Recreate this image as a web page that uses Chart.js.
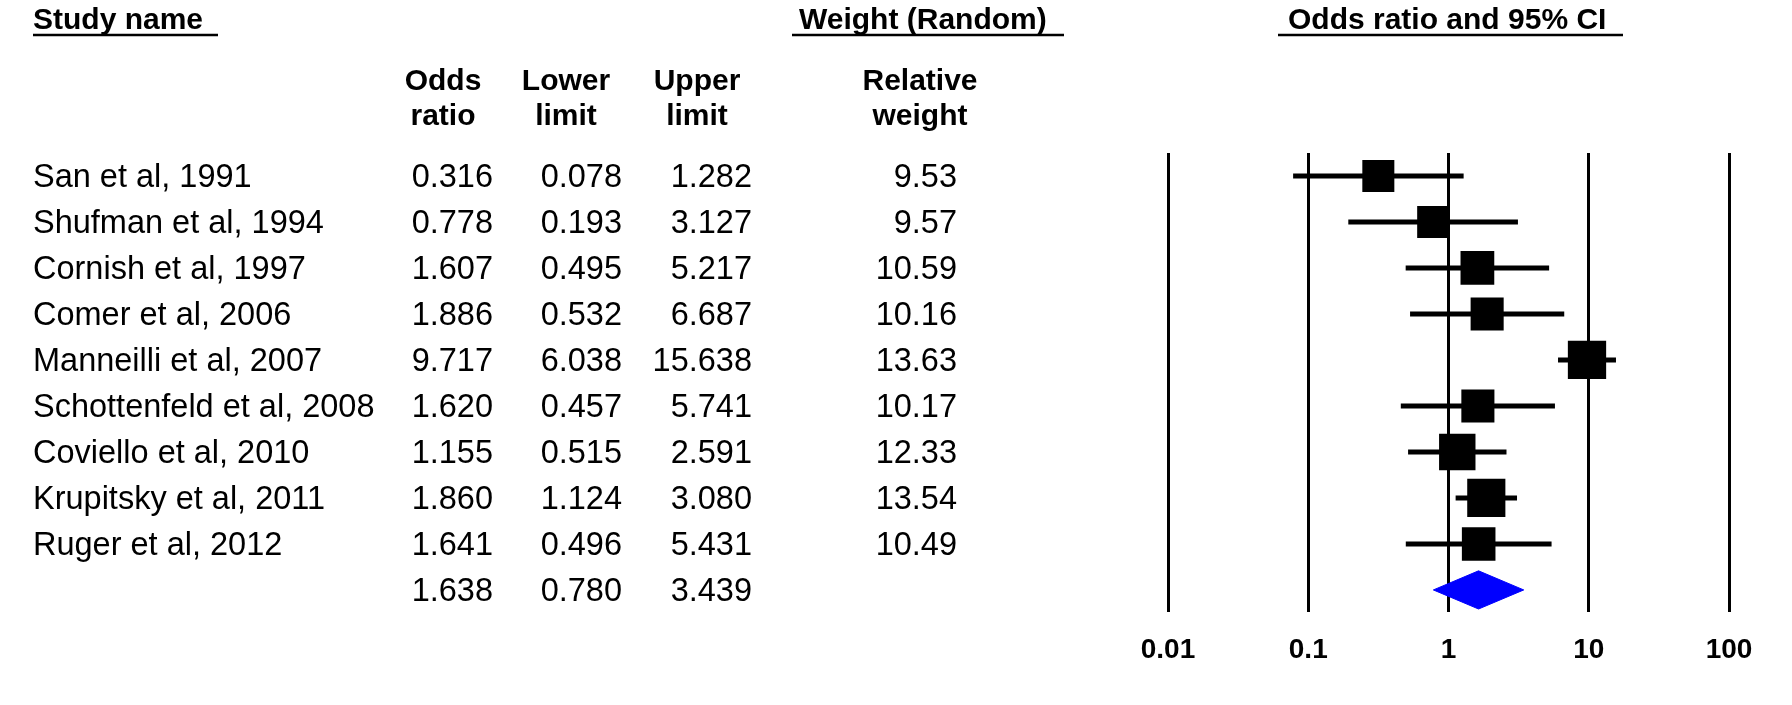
<!DOCTYPE html>
<html><head><meta charset="utf-8">
<script src="https://cdn.jsdelivr.net/npm/chart.js@4.4.1/dist/chart.umd.min.js"></script>
<style>html,body{margin:0;padding:0;background:#fff;overflow:hidden}#wrap{position:relative;width:1792px;height:705px}</style>
</head><body><div id="wrap"><canvas id="c" width="1792" height="705"></canvas></div>
<script>
// ---- data ----
const studies = ["San et al, 1991","Shufman et al, 1994","Cornish et al, 1997","Comer et al, 2006","Manneilli et al, 2007","Schottenfeld et al, 2008","Coviello et al, 2010","Krupitsky et al, 2011","Ruger et al, 2012"];
const oddsRatio  = [0.316, 0.778, 1.607, 1.886, 9.717, 1.620, 1.155, 1.860, 1.641];
const lowerLimit = [0.078, 0.193, 0.495, 0.532, 6.038, 0.457, 0.515, 1.124, 0.496];
const upperLimit = [1.282, 3.127, 5.217, 6.687, 15.638, 5.741, 2.591, 3.080, 5.431];
const relWeight  = [9.53, 9.57, 10.59, 10.16, 13.63, 10.17, 12.33, 13.54, 10.49];
const summaryValues = [1.638, 0.780, 3.439]; // odds ratio, lower, upper
const tickValues = [0.01, 0.1, 1, 10, 100];
const tickLabels = ["0.01", "0.1", "1", "10", "100"];
const headerTitles = ["Study name", "Weight (Random)", "Odds ratio and 95% CI"];
const columnHeaders = [["Odds","ratio"],["Lower","limit"],["Upper","limit"],["Relative","weight"]];

// ---- layout / style ----
const FONT = "'Liberation Sans', Arial, sans-serif";
const summaryRow = studies.length;
const diamondHalf = 0.415;
const boxK = 10.37;

const datasets = [];
datasets.push({
  type: 'scatter', order: 0,
  data: oddsRatio.map((v, i) => ({x: v, y: i})),
  pointStyle: 'rect',
  pointRadius: ctx => boxK * Math.sqrt(relWeight[ctx.dataIndex]) / Math.SQRT2,
  pointHoverRadius: ctx => boxK * Math.sqrt(relWeight[ctx.dataIndex]) / Math.SQRT2,
  backgroundColor: '#000', borderWidth: 0, pointBorderWidth: 0
});
studies.forEach((s, i) => {
  datasets.push({
    type: 'scatter', order: 1, showLine: true,
    data: [{x: lowerLimit[i], y: i}, {x: upperLimit[i], y: i}],
    borderColor: '#000', borderWidth: 5, pointRadius: 0, borderCapStyle: 'butt'
  });
});
datasets.push({
  type: 'scatter', order: 2, showLine: true,
  data: [
    {x: summaryValues[1], y: summaryRow},
    {x: summaryValues[0], y: summaryRow - diamondHalf},
    {x: summaryValues[2], y: summaryRow},
    {x: summaryValues[0], y: summaryRow + diamondHalf},
    {x: summaryValues[1], y: summaryRow}
  ],
  borderColor: '#0000ff', backgroundColor: '#0000ff', borderWidth: 1,
  pointRadius: 0, fill: 'shape', tension: 0
});

const textPlugin = {
  id: 'forestText',
  afterDraw(chart) {
    const ctx = chart.ctx;
    const y = chart.scales.y;
    ctx.save();
    ctx.fillStyle = '#000';
    ctx.strokeStyle = '#000';
    ctx.textBaseline = 'alphabetic';
    // titles
    ctx.font = 'bold 30px ' + FONT;
    ctx.textAlign = 'left';
    const titleX = [33, 799, 1288];
    const ulines = [[33, 218], [792, 1064], [1278, 1623]];
    headerTitles.forEach((t, k) => {
      ctx.fillText(t, titleX[k], 29);
      ctx.lineWidth = 2.5;
      ctx.beginPath();
      ctx.moveTo(ulines[k][0], 35);
      ctx.lineTo(ulines[k][1], 35);
      ctx.stroke();
    });
    // column headers
    ctx.textAlign = 'center';
    const hx = [443, 566, 697, 920];
    columnHeaders.forEach((lines, k) => {
      ctx.fillText(lines[0], hx[k], 90);
      ctx.fillText(lines[1], hx[k], 125);
    });
    // rows
    ctx.font = '32.5px ' + FONT;
    const colR = [493, 622, 752, 957];
    studies.forEach((s, i) => {
      const py = y.getPixelForValue(i) + 11.5;
      ctx.textAlign = 'left';
      ctx.fillText(s, 33, py);
      ctx.textAlign = 'right';
      ctx.fillText(oddsRatio[i].toFixed(3), colR[0], py);
      ctx.fillText(lowerLimit[i].toFixed(3), colR[1], py);
      ctx.fillText(upperLimit[i].toFixed(3), colR[2], py);
      ctx.fillText(relWeight[i].toFixed(2), colR[3], py);
    });
    const sy = y.getPixelForValue(summaryRow) + 11.5;
    ctx.textAlign = 'right';
    summaryValues.forEach((v, k) => ctx.fillText(v.toFixed(3), colR[k], sy));
    ctx.restore();
  }
};

new Chart(document.getElementById('c'), {
  type: 'scatter',
  data: {datasets},
  options: {
    responsive: false, animation: false,
    layout: {padding: {left: 1168, right: 63, top: 153, bottom: 33}},
    plugins: {legend: {display: false}, tooltip: {enabled: false}},
    scales: {
      x: {
        type: 'logarithmic', min: 0.01, max: 100, position: 'bottom',
        afterBuildTicks: s => { s.ticks = tickValues.map(v => ({value: v})); },
        afterFit: s => { s.height = 60; },
        ticks: {
          callback: (v, i) => tickLabels[i], autoSkip: false, maxRotation: 0,
          color: '#000', padding: 21,
          font: {family: FONT, size: 28, weight: 'bold'}
        },
        grid: {color: '#000', lineWidth: 3, drawTicks: false},
        border: {display: false}
      },
      y: {type: 'linear', min: -0.5, max: 9.48, reverse: true, display: false}
    }
  },
  plugins: [textPlugin]
});
</script>
</body></html>
